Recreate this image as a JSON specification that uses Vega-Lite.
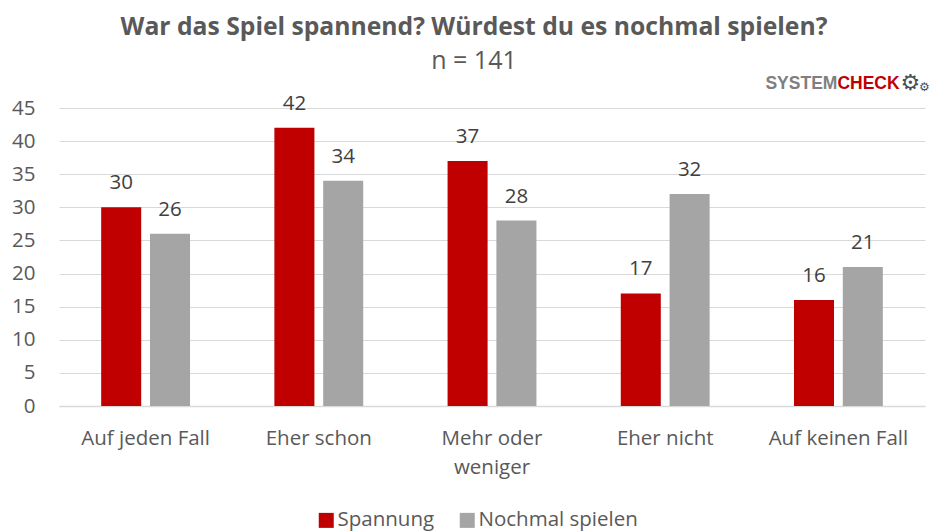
{"$schema":"https://vega.github.io/schema/vega-lite/v6.json","width":866,"height":298,"padding":{"left":59,"top":108,"right":5,"bottom":126},"autosize":{"type":"none"},"background":"white","config":{"font":"Open Sans","view":{"stroke":null}},
"title":{"text":"War das Spiel spannend? Würdest du es nochmal spielen?","subtitle":"n = 141","anchor":"middle","dx":-18,"offset":-2,"fontSize":24.7,"fontWeight":"bold","color":"#595959","subtitleFontSize":25,"subtitleColor":"#595959","subtitleFontWeight":"normal","subtitlePadding":9},
"encoding":{"x":{"field":"cat","type":"nominal","sort":["Auf jeden Fall","Eher schon","Mehr oder weniger","Eher nicht","Auf keinen Fall"],"scale":{"paddingInner":0.487,"paddingOuter":0.2435},"axis":{"title":null,"labelAngle":0,"labelFontSize":20.5,"labelColor":"#595959","domainColor":"#d9d9d9","domainWidth":1.5,"ticks":false,"labelPadding":22,"labelLimit":170,"labelOverlap":false,"labelExpr":"datum.label=='Mehr oder weniger'?['Mehr oder','weniger']:datum.label","labelLineHeight":29}},
"y":{"field":"value","type":"quantitative","scale":{"domain":[0,45]},"axis":{"title":null,"values":[0,5,10,15,20,25,30,35,40,45],"labelFontSize":20.5,"labelColor":"#595959","labelOverlap":false,"gridColor":"#d9d9d9","gridWidth":1,"domain":false,"ticks":false,"labelPadding":24}}},
"layer":[
{"data":{"name":"bars","values":[
{"cat":"Auf jeden Fall","series":"Spannung","value":30},{"cat":"Auf jeden Fall","series":"Nochmal spielen","value":26},
{"cat":"Eher schon","series":"Spannung","value":42},{"cat":"Eher schon","series":"Nochmal spielen","value":34},
{"cat":"Mehr oder weniger","series":"Spannung","value":37},{"cat":"Mehr oder weniger","series":"Nochmal spielen","value":28},
{"cat":"Eher nicht","series":"Spannung","value":17},{"cat":"Eher nicht","series":"Nochmal spielen","value":32},
{"cat":"Auf keinen Fall","series":"Spannung","value":16},{"cat":"Auf keinen Fall","series":"Nochmal spielen","value":21}]},
"mark":{"type":"bar"},
"encoding":{"xOffset":{"field":"series","sort":["Spannung","Nochmal spielen"],"scale":{"paddingInner":0.18}},
"color":{"field":"series","type":"nominal","scale":{"domain":["Spannung","Nochmal spielen"],"range":["#c00000","#a5a5a5"]},"legend":{"title":null,"orient":"none","legendX":257,"legendY":402,"direction":"horizontal","symbolType":"square","symbolSize":225,"symbolStrokeWidth":0,"labelFontSize":20.5,"labelColor":"#595959","columnPadding":22,"labelOffset":1}}}},
{"data":{"name":"bars"},"mark":{"type":"text","dy":-24,"fontSize":20.5,"color":"#404040"},
"encoding":{"xOffset":{"field":"series","sort":["Spannung","Nochmal spielen"]},"text":{"field":"value","type":"quantitative"}}},
{"data":{"values":[{"cat":"Auf keinen Fall","value":48.6,"t":"SYSTEM"}]},"mark":{"type":"text","align":"right","dx":-1,"font":"Liberation Sans","fontWeight":"bold","fontSize":17.5,"color":"#7f7f7f"},"encoding":{"text":{"field":"t"}}},
{"data":{"values":[{"cat":"Auf keinen Fall","value":48.6,"t":"CHECK"}]},"mark":{"type":"text","align":"left","dx":-1,"font":"Liberation Sans","fontWeight":"bold","fontSize":17.5,"color":"#c00000"},"encoding":{"text":{"field":"t"}}},
{"data":{"values":[{"cat":"Auf keinen Fall","value":48.6,"t":"⚙"}]},"mark":{"type":"text","align":"center","dx":72,"dy":-1,"font":"DejaVu Sans","fontSize":22,"color":"#44505a"},"encoding":{"text":{"field":"t"}}},
{"data":{"values":[{"cat":"Auf keinen Fall","value":48.6,"t":"⚙"}]},"mark":{"type":"text","align":"center","dx":86,"dy":3,"font":"DejaVu Sans","fontSize":12,"color":"#44505a"},"encoding":{"text":{"field":"t"}}}
]}
